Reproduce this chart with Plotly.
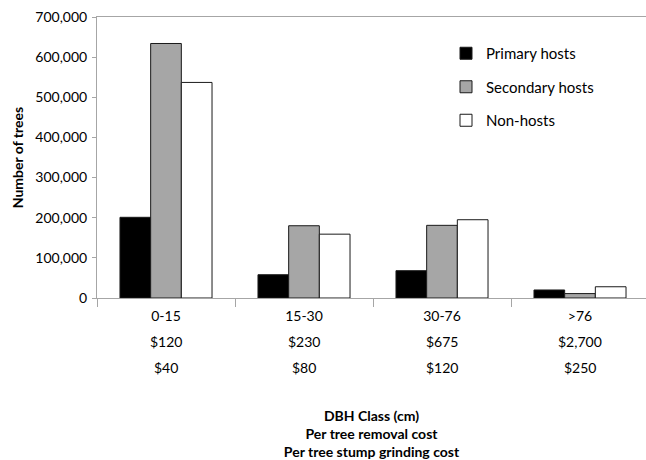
import plotly.graph_objects as go

# Tree counts by DBH class and host category
dbh_classes = ["0-15", "15-30", "30-76", ">76"]
removal_cost = ["$120", "$230", "$675", "$2,700"]
stump_cost = ["$40", "$80", "$120", "$250"]

primary_hosts = [201000, 58000, 68000, 20000]
secondary_hosts = [634000, 180000, 181000, 11000]
non_hosts = [537000, 159000, 195000, 28000]

FONT = "Lato, 'Open Sans', sans-serif"
AXIS_GRAY = "#a6a6a6"

series = [
    ("Primary hosts", primary_hosts, "#000000"),
    ("Secondary hosts", secondary_hosts, "#a6a6a6"),
    ("Non-hosts", non_hosts, "#ffffff"),
]

fig = go.Figure()
for i, (name, vals, color) in enumerate(series):
    fig.add_trace(go.Bar(
        name=name,
        x=dbh_classes,
        y=vals,
        marker=dict(color=color, line=dict(color="#1a1a1a", width=1)),
        legendgroup=str(i),
    ))

# Cost rows under the category labels
for cat, rc, sc in zip(dbh_classes, removal_cost, stump_cost):
    for txt, shift in ((rc, -43), (sc, -69)):
        fig.add_annotation(
            x=cat, xref="x", y=0, yref="paper", yshift=shift,
            text=txt, showarrow=False, yanchor="middle", xanchor="center",
            font=dict(family=FONT, size=14, color="#000000"),
        )

W, H = 646, 460
left, top, bottom = 97, 17, 162
plot_w = W - left
plot_h = H - top - bottom
cat_px = 138

fig.update_layout(
    width=W, height=H,
    margin=dict(l=left, r=0, t=top, b=bottom, pad=0, autoexpand=False),
    paper_bgcolor="white", plot_bgcolor="white",
    barmode="group", bargap=0.333, bargroupgap=0,
    font=dict(family=FONT, size=14, color="#000000"),
    legend=dict(
        x=(446 - left) / plot_w, xref="paper",
        y=(plot_h + top - 37) / plot_h, yref="paper",
        xanchor="left", yanchor="top",
        font=dict(family=FONT, size=15, color="#000000"),
        tracegroupgap=11, bgcolor="rgba(0,0,0,0)",
        itemwidth=30,
    ),
    xaxis=dict(
        type="category",
        range=[-0.5, -0.5 + plot_w / cat_px],
        showline=True, linecolor=AXIS_GRAY, linewidth=1, mirror=True,
        ticks="outside", tickson="boundaries", ticklen=8, tickcolor=AXIS_GRAY,
        ticklabelstandoff=5,
        showgrid=False, zeroline=False,
        title=dict(
            text="<b>DBH Class (cm)<br>Per tree removal cost<br>Per tree stump grinding cost</b>",
            font=dict(family=FONT, size=14, color="#000000"),
            standoff=89,
        ),
    ),
    yaxis=dict(
        range=[0, 700000], dtick=100000, tickformat=",",
        showline=True, linecolor=AXIS_GRAY, linewidth=1,
        ticks="outside", ticklen=4, tickcolor=AXIS_GRAY,
        ticklabelstandoff=2,
        showgrid=False, zeroline=False,
        title=dict(text="<b>Number of trees</b>",
                   font=dict(family=FONT, size=14, color="#000000"),
                   standoff=8),
    ),
)

fig.write_html("out.html")
